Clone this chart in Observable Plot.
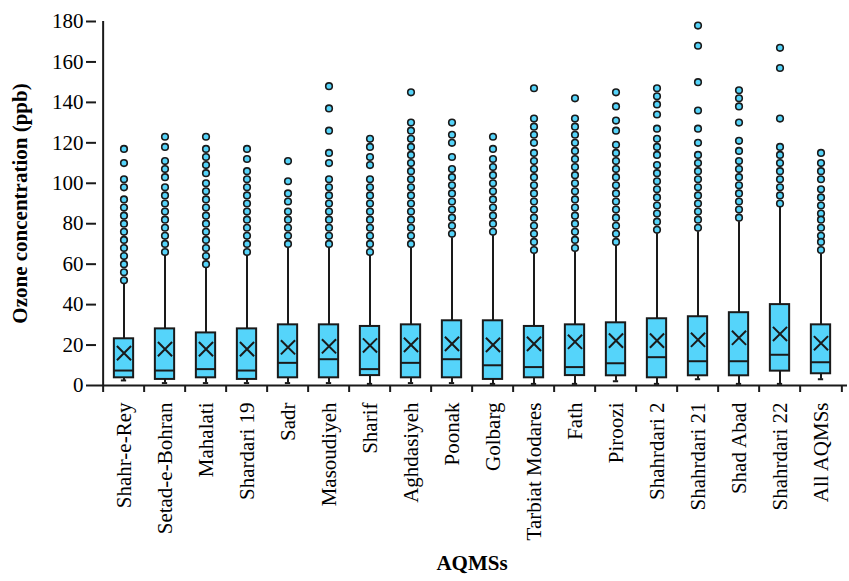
<!DOCTYPE html>
<html><head><meta charset="utf-8">
<script src="https://cdn.jsdelivr.net/npm/d3@7"></script>
<script src="https://cdn.jsdelivr.net/npm/@observablehq/plot@0.6"></script>
<style>body{margin:0;background:#fff}</style>
</head><body><div id="chart"></div>
<script>
const stations = ["Shahr-e-Rey","Setad-e-Bohran","Mahalati","Shardari 19","Sadr","Masoudiyeh","Sharif","Aghdasiyeh","Poonak","Golbarg","Tarbiat Modares","Fath","Piroozi","Shahrdari 2","Shahrdari 21","Shad Abad","Shahrdari 22","All AQMSs"];
const q1     = [3.8, 3.0, 3.8, 3.0, 3.8, 3.8, 4.9, 3.8, 3.8, 3.0, 3.8, 4.9, 4.8, 3.8, 4.8, 4.8, 7.1, 5.8];
const median = [7.4, 7.4, 8.1, 7.4, 11.2, 13.0, 8.1, 11.2, 13.0, 10.0, 9.1, 9.1, 11.0, 14.0, 12.0, 12.0, 15.2, 11.5];
const q3     = [23.1, 28.0, 26.0, 28.0, 30.0, 30.0, 29.2, 30.0, 32.0, 32.0, 29.2, 30.0, 31.0, 33.0, 34.0, 36.0, 40.0, 30.0];
const mean   = [16.0, 18.0, 18.0, 18.0, 18.9, 19.4, 19.8, 20.1, 20.6, 20.1, 20.6, 21.6, 22.2, 22.2, 22.6, 23.6, 25.5, 20.9];
const whiskerLow  = [2.5, 1.2, 1.2, 1.2, 1.2, 1.2, 0.8, 1.2, 1.2, 0.8, 0.8, 0.8, 2.1, 0.8, 3.1, 0.8, 0.8, 3.1];
const whiskerHigh = [50, 64, 58, 64, 68, 68, 64, 68, 73, 74, 65, 66, 69, 75, 76, 81, 88, 65];
const outliers = [
  [117,110,102,98,92,88,84,80,76,72,68,64,60,56,52],
  [123,118,111,107,103,98,94,90,86,82,78,74,70,66],
  [123,117,113,109,105,100,96,92,88,84,80,76,72,68,64,60],
  [117,112,106,102,98,94,90,86,82,78,74,70,66],
  [111,101,95,91,86,82,78,74,70],
  [148,137,126,115,110,102,98,94,90,86,82,78,74,70],
  [122,118,113,109,102,98,94,90,86,82,78,74,70,66],
  [145,130,126,122,118,114,110,106,102,98,94,90,86,82,78,74,70],
  [130,124,120,113,107,103,99,95,91,87,83,79,75],
  [123,117,112,108,104,100,96,92,88,84,80,76],
  [147,132,128,124,120,115,111,107,103,99,95,91,87,83,79,75,71,67],
  [142,132,128,124,120,116,112,108,104,100,96,92,88,84,80,76,72,68],
  [145,138,131,126,119,115,111,107,103,99,95,91,87,83,79,75,71],
  [147,143,139,134,127,122,118,114,109,105,101,97,93,89,85,81,77],
  [178,168,150,136,127,120,114,110,106,102,98,94,90,86,82,78],
  [146,142,138,130,121,116,111,107,103,99,95,91,87,83],
  [167,157,132,118,114,110,106,102,98,94,90],
  [115,110,106,102,97,93,89,85,82,78,74,71,67]
];
const yTicks = [0,20,40,60,80,100,120,140,160,180];
const yTitle = "Ozone concentration (ppb)";
const xTitle = "AQMSs";

const rows = stations.map((s, i) => ({station: s, q1: q1[i], median: median[i], q3: q3[i], mean: mean[i], lo: whiskerLow[i], hi: whiskerHigh[i]}));
const outlierRows = stations.flatMap((s, i) => outliers[i].map(v => ({station: s, value: v})));

const W = 849, H = 581, mL = 96, mR = 2, mT = 21, mB = 196;
const bw = (W - mL - mR) / stations.length;
const fill = "#55d4fa", ink = "#1a1a1a";
const serif = "'Liberation Serif', 'Times New Roman', serif";
const boxInset = (bw - 20) / 2;

const chart = Plot.plot({
  width: W, height: H, marginTop: mT, marginBottom: mB, marginLeft: mL, marginRight: mR,
  style: {fontFamily: serif, fontSize: "21px", color: "#000", background: "#fff", overflow: "visible"},
  x: {type: "band", domain: stations, padding: 0, axis: null},
  y: {domain: [0, 180], axis: null},
  marks: [
    Plot.axisY({ticks: yTicks, tickSize: 10, tickPadding: 3, fontSize: 21, fontFamily: serif, fill: "#000", label: null, strokeWidth: 2, stroke: ink}),
    Plot.axisX({tickSize: 7, dx: -bw / 2, tickFormat: () => "", label: null, strokeWidth: 2, stroke: ink}),
    Plot.axisX({ticks: [stations[stations.length - 1]], tickSize: 7, dx: bw / 2, tickFormat: () => "", label: null, strokeWidth: 2, stroke: ink}),
    Plot.axisX({tickSize: 0, tickRotate: -90, tickPadding: 17, fontSize: 21, fontFamily: serif, fill: "#000", label: null}),
    Plot.ruleY([0], {stroke: ink, strokeWidth: 2}),
    Plot.ruleX([stations[0]], {x: d => d, dx: -bw / 2, y1: 0, y2: 180, stroke: ink, strokeWidth: 2}),
    Plot.ruleX(rows, {x: "station", y1: "lo", y2: "q1", stroke: ink, strokeWidth: 2}),
    Plot.ruleX(rows, {x: "station", y1: "q3", y2: "hi", stroke: ink, strokeWidth: 2}),
    Plot.tickY(rows, {x: "station", y: "lo", stroke: ink, strokeWidth: 2, inset: (bw - 6) / 2}),
    Plot.barY(rows, {x: "station", y1: "q1", y2: "q3", fill: fill, stroke: ink, strokeWidth: 2, insetLeft: boxInset, insetRight: boxInset}),
    Plot.tickY(rows, {x: "station", y: "median", stroke: ink, strokeWidth: 2, inset: boxInset}),
    Plot.dot(rows, {x: "station", y: "mean", symbol: "times", r: 6.5, stroke: ink, strokeWidth: 2}),
    Plot.dot(outlierRows, {x: "station", y: "value", r: 3.3, fill: fill, stroke: ink, strokeWidth: 1.6}),
    Plot.text([yTitle], {x: null, y: null, frameAnchor: "left", dx: -76, rotate: -90, textAnchor: "middle", text: d => d, fontWeight: "bold", fontSize: 21, fontFamily: serif, fill: "#000"}),
    Plot.text([xTitle], {x: null, y: null, frameAnchor: "bottom", dy: 184, textAnchor: "middle", text: d => d, fontWeight: "bold", fontSize: 21, fontFamily: serif, fill: "#000"})
  ]
});
document.getElementById("chart").append(chart);
</script>
</body></html>
